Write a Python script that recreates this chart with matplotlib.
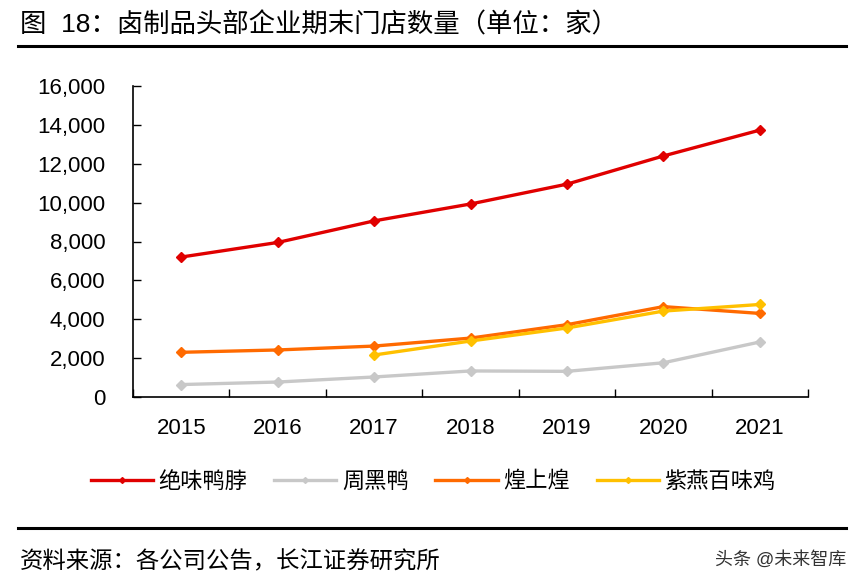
import matplotlib
matplotlib.use('Agg')
import matplotlib.pyplot as plt
from matplotlib.ticker import FuncFormatter

plt.rcParams['font.family'] = ['Liberation Sans', 'Noto Sans CJK SC', 'DejaVu Sans']

years = ['2015', '2016', '2017', '2018', '2019', '2020', '2021']
juewei = [7200, 7950, 9060, 9930, 10950, 12400, 13730]
zhouhei = [640, 770, 1030, 1340, 1320, 1760, 2830]
huangshang = [2300, 2420, 2620, 3030, 3720, 4650, 4300]
ziyan = [None, None, 2160, 2880, 3550, 4420, 4760]

names = ['绝味鸭脖', '周黑鸭', '煌上煌', '紫燕百味鸡']
colors = ['#E00000', '#C8C8C8', '#FF6A00', '#FFC000']

fig = plt.figure(figsize=(8.63, 5.86), dpi=100)
W, H = 863, 586
ax = fig.add_axes([133 / W, (H - 397) / H, 675 / W, 311 / H])

x = list(range(len(years)))
for vals, name, c in zip([juewei, zhouhei, huangshang, ziyan], names, colors):
    xs = [i for i, v in zip(x, vals) if v is not None]
    ys = [v for v in vals if v is not None]
    ax.plot(xs, ys, color=c, lw=2.4, marker='D', ms=5, label=name)

ax.set_xlim(-0.5, len(years) - 0.5)
ax.set_ylim(0, 16000)
ax.set_yticks(range(0, 16001, 2000))
ax.yaxis.set_major_formatter(FuncFormatter(lambda v, p: f'{int(v):,}'))
ax.set_xticks([i - 0.5 for i in range(len(years) + 1)])
ax.set_xticklabels([])
ax.set_xticks(x, minor=True)
ax.set_xticklabels(years, minor=True)
ax.tick_params(axis='x', which='major', direction='in', length=6, width=1)
ax.tick_params(axis='x', which='minor', length=0, pad=15, labelsize=16)
ax.tick_params(axis='y', direction='in', length=6, width=1, labelsize=16, pad=20)
for s in ['top', 'right']:
    ax.spines[s].set_visible(False)
for s in ['left', 'bottom']:
    ax.spines[s].set_linewidth(1.2)
    ax.spines[s].set_color('black')

leg = fig.legend(loc='center', bbox_to_anchor=(0.502, (H - 482) / H), ncol=4,
                 frameon=False, fontsize=16, handlelength=2.8, columnspacing=1.2,
                 handletextpad=0.25, markerscale=0.6)

fig.text(20 / W, (H - 25) / H, '图  18：卤制品头部企业期末门店数量（单位：家）',
         fontsize=19, va='center', ha='left')
fig.add_artist(plt.Line2D([18 / W, 846 / W], [(H - 46) / H] * 2, color='black', lw=2.2))
fig.add_artist(plt.Line2D([18 / W, 846 / W], [(H - 528) / H] * 2, color='black', lw=2.2))
fig.text(20 / W, (H - 562) / H, '资料来源：各公司公告，长江证券研究所',
         fontsize=16.8, va='center', ha='left')
fig.text(846 / W, (H - 560) / H, '头条 @未来智库', fontsize=13, va='center',
         ha='right', color='#333333')

fig.savefig('out.png', dpi=100)
